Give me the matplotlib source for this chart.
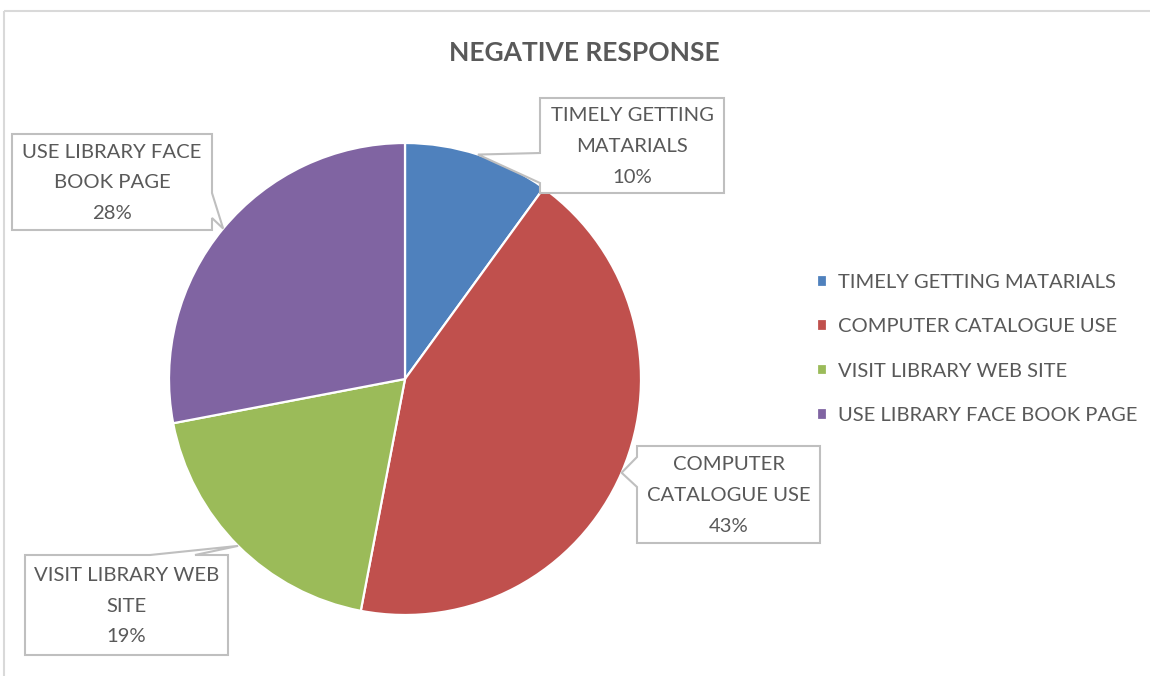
import numpy as np
import matplotlib
matplotlib.use("Agg")
import matplotlib.pyplot as plt
from matplotlib.patches import Polygon, Rectangle

# Survey data
categories = ["TIMELY GETTING MATARIALS", "COMPUTER CATALOGUE USE",
              "VISIT LIBRARY WEB SITE", "USE LIBRARY FACE BOOK PAGE"]
percentages = [10, 43, 19, 28]
colors = ["#4F81BD", "#C0504D", "#9BBB59", "#8064A2"]
callout_text = ["TIMELY GETTING\nMATARIALS", "COMPUTER\nCATALOGUE USE",
                "VISIT LIBRARY WEB\nSITE", "USE LIBRARY FACE\nBOOK PAGE"]
title = "NEGATIVE RESPONSE"

TEXT = "#595959"
FONT = ["Lato", "DejaVu Sans"]

W, H = 1150, 676
fig = plt.figure(figsize=(W / 100, H / 100), dpi=100)
ax = fig.add_axes([0, 0, 1, 1])

# pie in pixel-like coordinates (y grows downward)
cx, cy, r = 405, 379, 236
wedges, _ = ax.pie(percentages, colors=colors, center=(cx, cy), radius=r,
                   startangle=-90, counterclock=True,
                   wedgeprops=dict(edgecolor="white", linewidth=1.6))
ax.set_xlim(0, W)
ax.set_ylim(H, 0)
ax.set_aspect("equal")
ax.axis("off")

# outer chart frame
ax.add_patch(Rectangle((4, 11), W + 20, H + 20, fill=False,
                       edgecolor="#D9D9D9", linewidth=1.5, zorder=0))

ax.text(584, 53, title, ha="center", va="center", fontsize=19,
        fontweight="bold", color=TEXT, family=FONT)

# anchor points at the middle of each slice's outer arc
fr = np.array(percentages, dtype=float) / sum(percentages)
cum = np.concatenate([[0], np.cumsum(fr)])
mid = -90 + 360 * (cum[:-1] + cum[1:]) / 2
anchors = [(cx + r * np.cos(np.radians(a)), cy + r * np.sin(np.radians(a)))
           for a in mid]

# callout boxes: (x0, y0, x1, y1), side of the pointer, pointer base span
boxes = [
    ((540, 98, 724, 193), "left", (153, 183)),
    ((637, 446, 820, 543), "left", (457, 487)),
    ((25, 555, 228, 655), "top", (150, 195)),
    ((12, 134, 212, 230), "right", (193, 218)),
]


def callout_path(box, side, span, tip):
    x0, y0, x1, y1 = box
    a, b = span
    if side == "left":
        return [(x0, y0), (x1, y0), (x1, y1), (x0, y1), (x0, b), tip, (x0, a)]
    if side == "right":
        return [(x0, y0), (x1, y0), (x1, a), tip, (x1, b), (x1, y1), (x0, y1)]
    # pointer on the top edge
    return [(x0, y0), (a, y0), tip, (b, y0), (x1, y0), (x1, y1), (x0, y1)]


for i, (box, side, span) in enumerate(boxes):
    pts = callout_path(box, side, span, anchors[i])
    ax.add_patch(Polygon(pts, closed=True, facecolor="white",
                         edgecolor="#BFBFBF", linewidth=1.5, zorder=3))
    x0, y0, x1, y1 = box
    ax.text((x0 + x1) / 2, (y0 + y1) / 2 + 1,
            f"{callout_text[i]}\n{percentages[i]}%",
            ha="center", va="center", fontsize=14.6, color=TEXT,
            family=FONT, linespacing=1.97, zorder=4)

leg = ax.legend(wedges, categories, loc="center left",
                bbox_to_anchor=(799 / W, 1 - 349 / H), frameon=False,
                handlelength=0.5, handleheight=0.5, handletextpad=0.55,
                labelspacing=1.36, prop=dict(family=FONT, size=14.5))
for t in leg.get_texts():
    t.set_color(TEXT)

fig.savefig("out.png", dpi=100, facecolor="white")
